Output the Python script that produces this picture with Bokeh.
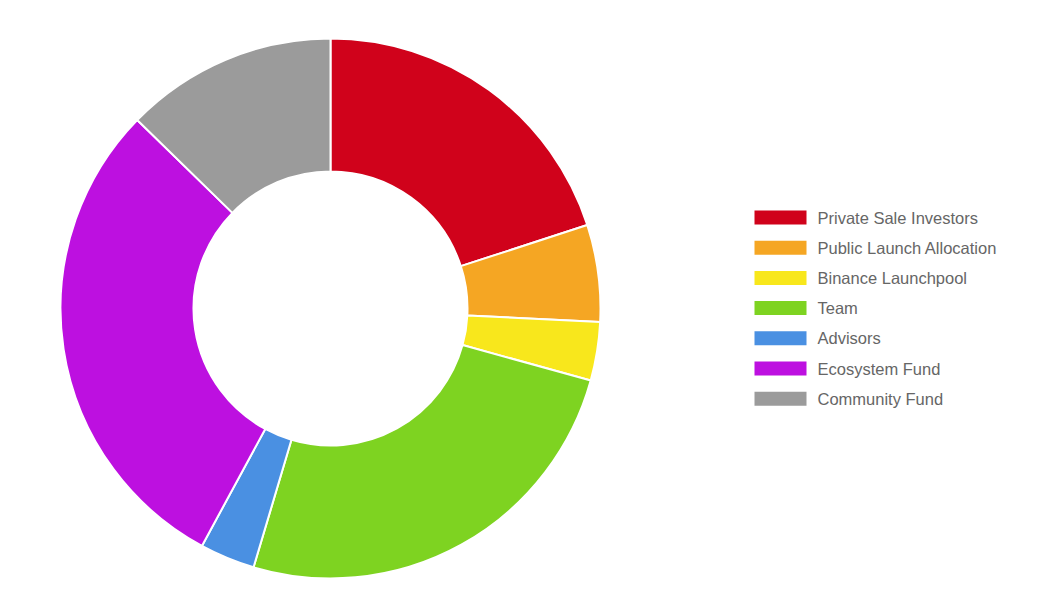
import numpy as np
from bokeh.plotting import figure
from bokeh.models import Range1d, ColumnDataSource
from bokeh.core.properties import value
from bokeh.embed import file_html
from bokeh.resources import INLINE

categories = ["Private Sale Investors", "Public Launch Allocation", "Binance Launchpool",
              "Team", "Advisors", "Ecosystem Fund", "Community Fund"]
shares = [20.0, 5.8, 3.5, 25.3, 3.3, 29.4, 12.7]
colors = ["#d0021b", "#f5a623", "#f8e71c", "#7ed321", "#4a90e2", "#bd10e0", "#9b9b9b"]

W, H = 1042, 596
p = figure(width=W, height=H, output_backend="svg", toolbar_location=None,
           x_range=Range1d(0, W), y_range=Range1d(612 - H, 612),
           min_border=0)
p.axis.visible = False
p.grid.visible = False
p.outline_line_color = None
p.background_fill_color = "white"
p.border_fill_color = "white"

vals = np.array(shares, dtype=float)
frac = vals / vals.sum()
cum = np.concatenate([[0], np.cumsum(frac)]) * 2 * np.pi
start = np.pi / 2 - cum[1:]
end = np.pi / 2 - cum[:-1]

cx, cy = 330, 612 - 308
src = ColumnDataSource(dict(start=start, end=end, color=colors, name=categories))
p.annular_wedge(x=cx, y=cy, inner_radius=137, outer_radius=270,
                start_angle="start", end_angle="end", direction="anticlock",
                fill_color="color", line_color="white", line_width=2, source=src)

# legend
n = len(categories)
ly = [612 - (217 + 30.2 * i) for i in range(n)]
lsrc = ColumnDataSource(dict(y=ly, color=colors, name=categories))
p.rect(x=780, y="y", width=52, height=14, fill_color="color", line_color=None, source=lsrc)
p.text(x=817, y="y", text="name", text_font=value("Liberation Sans"),
       text_font_size="16.5px", text_color="#666666", text_baseline="middle",
       text_align="left", source=lsrc)

open("out.html", "w").write(file_html(p, INLINE))
